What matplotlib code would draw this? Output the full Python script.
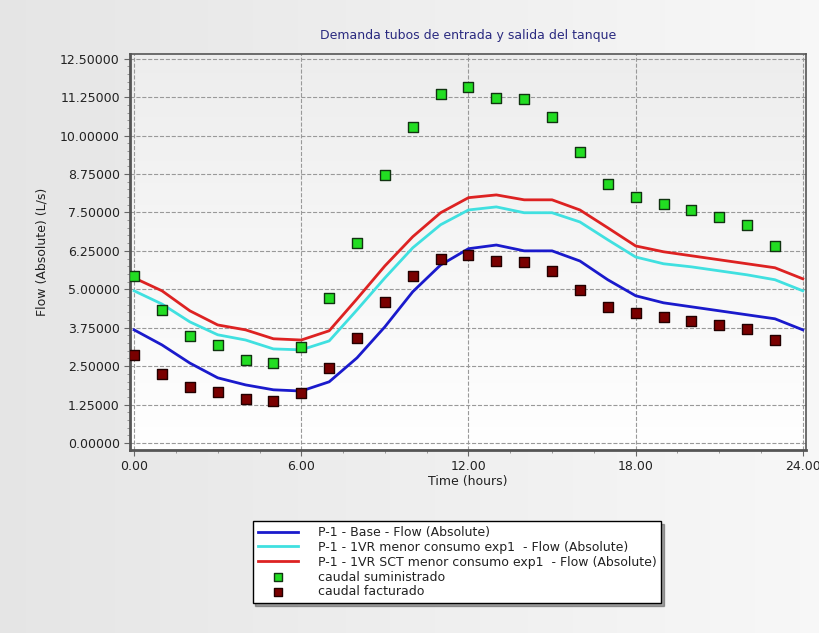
import numpy as np
import matplotlib
matplotlib.use("Agg")
import matplotlib.pyplot as plt
from matplotlib.ticker import MultipleLocator, FormatStrFormatter

hours = list(range(25))
hours_pts = list(range(24))

base = [3.68, 3.19, 2.60, 2.12, 1.89, 1.73, 1.69, 1.99, 2.77, 3.78, 4.92, 5.79, 6.32,
        6.44, 6.25, 6.25, 5.92, 5.31, 4.79, 4.56, 4.43, 4.30, 4.17, 4.04, 3.68]
menor = [4.95, 4.52, 3.94, 3.52, 3.35, 3.06, 3.03, 3.32, 4.33, 5.37, 6.35, 7.10, 7.58,
         7.68, 7.49, 7.49, 7.19, 6.61, 6.05, 5.83, 5.73, 5.60, 5.47, 5.31, 4.95]
sct = [5.37, 4.95, 4.30, 3.84, 3.68, 3.39, 3.35, 3.65, 4.69, 5.76, 6.71, 7.49, 7.98,
       8.07, 7.91, 7.91, 7.58, 7.00, 6.41, 6.22, 6.09, 5.96, 5.83, 5.70, 5.34]
suministrado = [5.44, 4.33, 3.48, 3.19, 2.70, 2.60, 3.12, 4.72, 6.51, 8.72, 10.29, 11.36,
                11.59, 11.23, 11.20, 10.61, 9.47, 8.43, 8.01, 7.78, 7.58, 7.36, 7.10, 6.41]
facturado = [2.86, 2.25, 1.82, 1.66, 1.43, 1.37, 1.63, 2.44, 3.42, 4.59, 5.44, 5.99,
             6.12, 5.92, 5.89, 5.60, 4.98, 4.43, 4.23, 4.10, 3.97, 3.84, 3.71, 3.35]

labels = ["P-1 - Base - Flow (Absolute)",
          "P-1 - 1VR menor consumo exp1  - Flow (Absolute)",
          "P-1 - 1VR SCT menor consumo exp1  - Flow (Absolute)",
          "caudal suministrado",
          "caudal facturado"]

plt.rcParams['font.family'] = ['DejaVu Sans']
fig = plt.figure(figsize=(8.19, 6.33), dpi=100, facecolor='#ededed')

# light gray background gradient for the whole figure
bg = fig.add_axes([0, 0, 1, 1], zorder=-10)
g = np.linspace(0.90, 0.97, 256).reshape(1, -1)
bg.imshow(np.dstack([g, g, g]), extent=[0, 1, 0, 1], aspect='auto')
bg.axis('off')

ax = fig.add_axes([0.159, 0.289, 0.825, 0.626])
ax.set_facecolor('white')

# soft gradient background in plot area
grad = np.linspace(0.93, 1.0, 256).reshape(-1, 1)
ax.imshow(np.dstack([grad, grad, grad]), extent=[-0.14, 24.11, -0.23, 12.66],
          aspect='auto', origin='upper', zorder=0)

ax.plot(hours, base, color='#1a1acc', lw=2, label=labels[0], zorder=3)
ax.plot(hours, menor, color='#40e0e0', lw=2, label=labels[1], zorder=3)
ax.plot(hours, sct, color='#dd2222', lw=2, label=labels[2], zorder=3)
ax.scatter(hours_pts, suministrado, marker='s', s=55, color='#22dd22',
           edgecolors='#113311', linewidths=1, label=labels[3], zorder=4)
ax.scatter(hours_pts, facturado, marker='s', s=55, color='#7a0000',
           edgecolors='#220000', linewidths=1, label=labels[4], zorder=4)

ax.set_xlim(-0.14, 24.11)
ax.set_ylim(-0.23, 12.66)
ax.xaxis.set_major_locator(MultipleLocator(6))
ax.xaxis.set_minor_locator(MultipleLocator(1.5))
ax.yaxis.set_major_locator(MultipleLocator(1.25))
ax.yaxis.set_minor_locator(MultipleLocator(0.25))
ax.xaxis.set_major_formatter(FormatStrFormatter('%.2f'))
ax.yaxis.set_major_formatter(FormatStrFormatter('%.5f'))
ax.grid(True, which='major', color='#999999', linestyle='--', linewidth=0.8, zorder=1)
ax.tick_params(axis='both', which='major', labelsize=9, length=4, color='#666666',
               labelcolor='#222222')
ax.tick_params(axis='both', which='minor', length=2, color='#888888')

for side in ['left', 'bottom']:
    ax.spines[side].set_linewidth(2)
    ax.spines[side].set_color('#555555')
for side in ['top', 'right']:
    ax.spines[side].set_linewidth(1.2)
    ax.spines[side].set_color('#555555')

ax.set_xlabel('Time (hours)', fontsize=9, color='#222222', labelpad=1)
ax.set_ylabel('Flow (Absolute) (L/s)', fontsize=9, color='#222222', labelpad=8)
ax.set_title('Demanda tubos de entrada y salida del tanque', fontsize=9,
             color='#2a2a80', pad=11)

leg = fig.legend(loc='upper center', bbox_to_anchor=(0.558, 0.187), fontsize=9,
                 frameon=True, fancybox=False, shadow=True, edgecolor='black',
                 handlelength=3.2, handletextpad=1.6, labelspacing=0.15,
                 borderpad=0.4, markerscale=0.8)
leg.get_frame().set_linewidth(1)
leg.get_frame().set_facecolor('white')
for t in leg.get_texts():
    t.set_color('#222222')

fig.savefig('out.png', dpi=100, facecolor=fig.get_facecolor())
